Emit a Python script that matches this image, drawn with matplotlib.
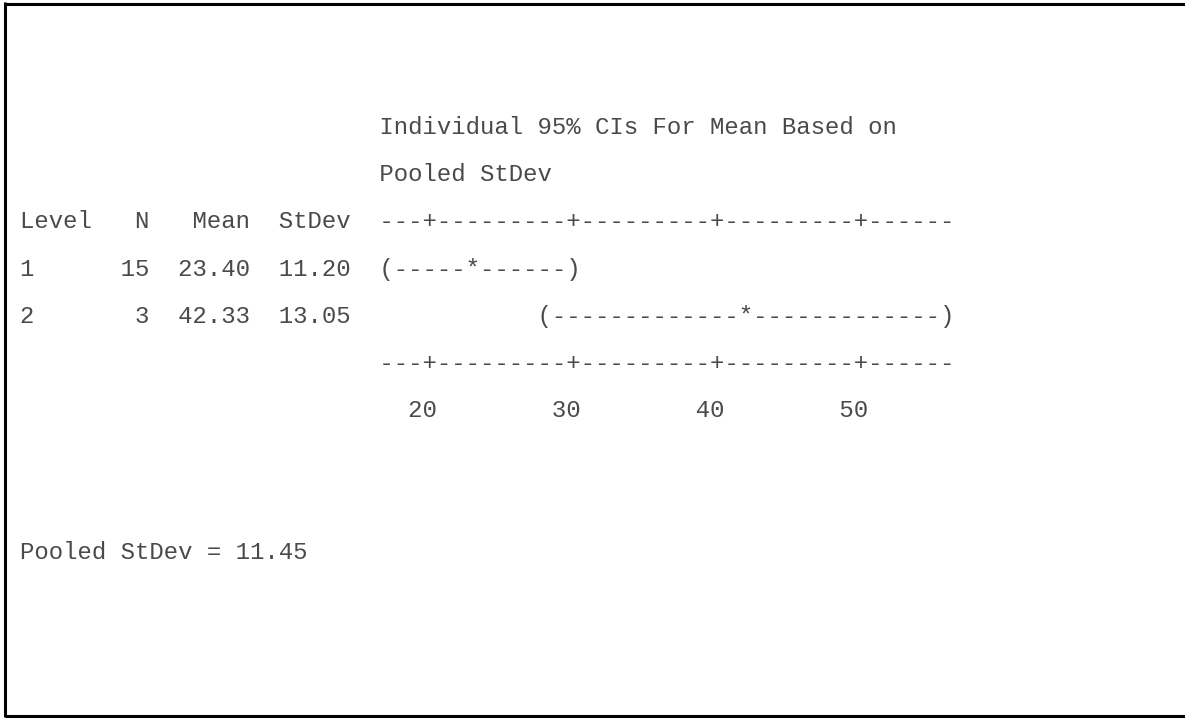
import matplotlib.pyplot as plt

# One-way ANOVA summary: per-level stats and 95% CIs on the pooled StDev
levels = ['1', '2']
n_obs = [15, 3]
means = [23.40, 42.33]
stdevs = [11.20, 13.05]
ci_low = [17.13, 28.32]
ci_high = [29.67, 56.34]
pooled_sd = 11.45
axis_ticks = [20, 30, 40, 50]

# character strip of the text chart: one column per unit, starting at 17
strip_start = 17
strip_width = 40


def col(v):
    return int(round(v - strip_start))


def axis_line():
    chars = ['-'] * strip_width
    for t in axis_ticks:
        chars[col(t)] = '+'
    return ''.join(chars)


def tick_labels():
    chars = [' '] * strip_width
    for t in axis_ticks:
        s = str(t)
        end = col(t) + 1
        chars[end - len(s):end] = list(s)
    return ''.join(chars).rstrip()


def ci_line(lo, m, hi):
    chars = [' '] * strip_width
    a, b = col(lo), col(hi)
    for c in range(a, b + 1):
        chars[c] = '-'
    chars[a] = '('
    chars[b] = ')'
    chars[col(m)] = '*'
    return ''.join(chars).rstrip()


pad = ' ' * 25
lines = [
    pad + 'Individual 95% CIs For Mean Based on',
    pad + 'Pooled StDev',
    f"{'Level':<6}{'N':>3}{'Mean':>7}{'StDev':>7}  " + axis_line(),
]
for lv, n, m, sd, lo, hi in zip(levels, n_obs, means, stdevs, ci_low, ci_high):
    lines.append(f"{lv:<6}{n:>3}{m:>7.2f}{sd:>7.2f}  " + ci_line(lo, m, hi))
lines.append(pad + axis_line())
lines.append(pad + tick_labels())
lines.append('')
lines.append('')
lines.append(f'Pooled StDev = {pooled_sd:.2f}')

fig = plt.figure(figsize=(11.85, 7.19), dpi=100)
ax = fig.add_axes([0, 0, 1, 1])
ax.set_xlim(0, 1185)
ax.set_ylim(719, 0)
ax.axis('off')

# frame: top, left and bottom edges
ax.plot([5, 1185], [3.5, 3.5], color='black', lw=2.2, solid_capstyle='butt')
ax.plot([5, 5], [2, 717], color='black', lw=2.2, solid_capstyle='butt')
ax.plot([5, 1185], [715.5, 715.5], color='black', lw=2.2, solid_capstyle='butt')

y0 = 127
dy = 47.2
for i, s in enumerate(lines):
    ax.text(20, y0 + i * dy + 7, s, family='Liberation Mono', fontsize=17.28,
            color='#4a4a4a', va='baseline', ha='left')

fig.savefig('out.png', dpi=100)
